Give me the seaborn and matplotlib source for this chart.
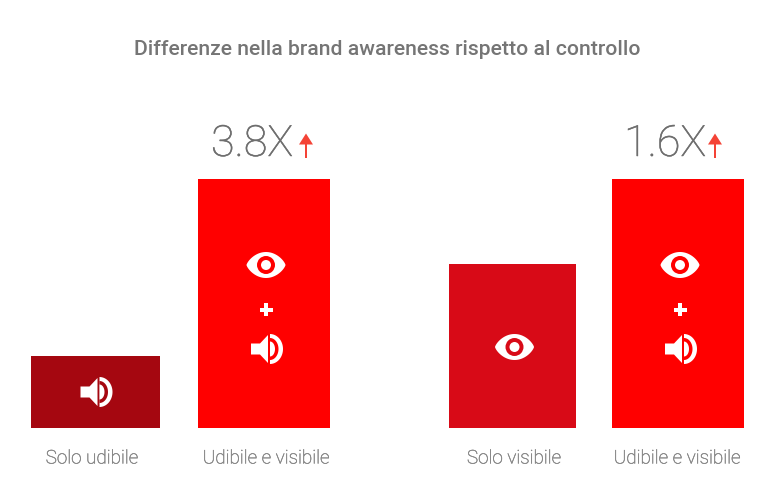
import numpy as np
import seaborn as sns
import matplotlib.pyplot as plt
import matplotlib.patheffects as pe
from matplotlib.patches import Polygon, Circle, Rectangle

categories = ["Solo udibile", "Udibile e visibile", "Solo visibile", "Udibile e visibile"]
values = [72, 249, 164, 249]
multipliers = ["", "3.8X", "", "1.6X"]
icons = ["audio", "both", "eye", "both"]
bar_colors = ["#A50710", "#FF0000", "#D80A17", "#FF0000"]
title = "Differenze nella brand awareness rispetto al controllo"

# layout in pixels, axes cover the whole figure
centers = [95.5, 264, 512.5, 678]
widths = [129, 132, 127, 132]
label_x = [92, 266, 514, 677]
multiplier_x = [0, 252, 0, 665]
arrow_x = [0, 306, 0, 715]
BASE = 428

GREY = "#757575"


def half_ellipse(cx, cy, a, b):
    t = np.linspace(-np.pi / 2, np.pi / 2, 40)
    return np.column_stack([cx + a * np.cos(t), cy + b * np.sin(t)])


def draw_eye(ax, cx, cy, bg):
    t = np.linspace(0, np.pi, 40)
    top = np.column_stack([cx - 19.5 * np.cos(t), cy + 13 * np.sin(t) ** 1.5])
    bottom = np.column_stack([cx + 19.5 * np.cos(t), cy - 13 * np.sin(t) ** 1.5])
    ax.add_patch(Polygon(np.vstack([top, bottom]), fc="white", ec="none", zorder=3))
    ax.add_patch(Circle((cx, cy), 9, fc=bg, ec="none", zorder=4))
    ax.add_patch(Circle((cx, cy), 5, fc="white", ec="none", zorder=5))


def draw_plus(ax, cx, cy):
    ax.add_patch(Rectangle((cx - 6.5, cy - 2.2), 13, 4.4, fc="white", ec="none", zorder=3))
    ax.add_patch(Rectangle((cx - 2.2, cy - 6.5), 4.4, 13, fc="white", ec="none", zorder=3))


def draw_speaker(ax, cx, cy, bg):
    cone = [(cx - 15, cy - 5.5), (cx - 6, cy - 5.5), (cx + 2, cy - 14), (cx + 2, cy + 14),
            (cx - 6, cy + 5.5), (cx - 15, cy + 5.5)]
    ax.add_patch(Polygon(cone, fc="white", ec="none", zorder=3))
    ax.add_patch(Polygon(half_ellipse(cx + 4, cy, 13, 15), fc="white", ec="none", zorder=3))
    ax.add_patch(Polygon(half_ellipse(cx + 4, cy, 8.5, 11), fc=bg, ec="none", zorder=4))
    ax.add_patch(Polygon(half_ellipse(cx + 4, cy, 5, 7.5), fc="white", ec="none", zorder=5))


def draw_arrow(ax, cx, top):
    ax.add_patch(Polygon([(cx - 7, top - 11), (cx + 7, top - 11), (cx, top)],
                         fc="#F44336", ec="none"))
    ax.add_patch(Rectangle((cx - 1.2, top - 25), 2.4, 15, fc="#F44336", ec="none"))


sns.set_theme(style="white")
plt.rcParams["font.family"] = ["Roboto", "DejaVu Sans"]

fig, ax = plt.subplots(figsize=(7.8, 4.86), dpi=100)
ax.set_position([0, 0, 1, 1])

for center, width, value, color in zip(centers, widths, values, bar_colors):
    sns.barplot(x=[center], y=[value], native_scale=True, width=width,
                color=color, saturation=1, linewidth=0, ax=ax)

ax.set_xlim(0, 780)
ax.set_ylim(BASE - 486, BASE)
ax.axis("off")

ax.text(387, BASE - 49.5, title, ha="center", va="center", fontsize=15.25,
        fontweight="medium", color=GREY)

# the light weight renders thinner here than in the reference, so thicken it a bit
big_stroke = [pe.withStroke(linewidth=0.35, foreground="#6e6e6e")]
small_stroke = [pe.withStroke(linewidth=0.3, foreground="#858585")]

for i, category in enumerate(categories):
    ax.text(label_x[i], -30.5, category, ha="center", va="center", fontsize=13.6,
            fontweight="light", color="#858585", path_effects=small_stroke)
    center, color = centers[i], bar_colors[i]
    if multipliers[i]:
        ax.text(multiplier_x[i], values[i] + 34.5, multipliers[i], ha="center", va="center",
                fontsize=31, fontweight="light", color="#6e6e6e", path_effects=big_stroke)
        draw_arrow(ax, arrow_x[i], values[i] + 45.5)
    if icons[i] == "audio":
        draw_speaker(ax, center, BASE - 392, color)
    elif icons[i] == "eye":
        draw_eye(ax, center + 2, BASE - 347, color)
    else:
        draw_eye(ax, center + 2, BASE - 265, color)
        draw_plus(ax, center + 2, BASE - 310)
        draw_speaker(ax, center + 2, BASE - 349, color)

fig.savefig("out.png", dpi=100)
